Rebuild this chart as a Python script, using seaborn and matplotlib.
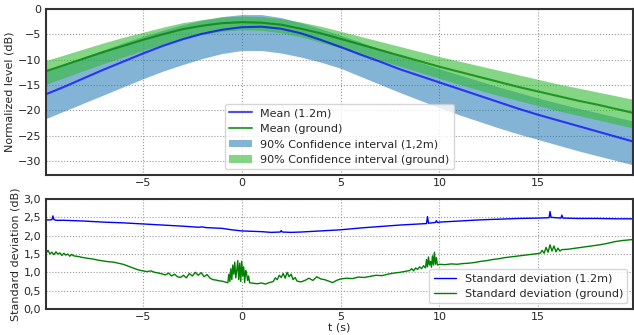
import numpy as np
import pandas as pd
import matplotlib
matplotlib.use("Agg")
import matplotlib.pyplot as plt
from matplotlib.ticker import FuncFormatter
import seaborn as sns

# --------------------------
# Data
# --------------------------
t = [-10, -9, -8, -7, -6, -5, -4, -3, -2, -1, 0, 1, 2, 3, 4, 5,
     6, 7, 8, 9, 10, 11, 12, 13, 14, 15, 16, 17, 18, 19, 20]

mean_12m = [-17.0, -15.4, -13.7, -12.0, -10.4, -8.8, -7.3, -6.0, -4.9, -4.1, -3.6,
            -3.5, -3.9, -4.8, -6.1, -7.5, -9.0, -10.4, -11.9, -13.2, -14.5,
            -15.8, -17.1, -18.4, -19.7, -20.9, -22.0, -23.1, -24.2, -25.3, -26.4]
ci_12m_low = [-21.8, -20.2, -18.6, -17.0, -15.4, -13.8, -12.3, -11.0, -9.8, -8.8, -8.2,
              -8.2, -8.7, -9.5, -10.5, -11.7, -13.3, -14.9, -16.5, -18.0, -19.5,
              -20.9, -22.2, -23.5, -24.7, -25.8, -26.9, -28.0, -29.0, -30.0, -31.0]
ci_12m_high = [-12.3, -10.9, -9.5, -8.1, -6.7, -5.4, -4.2, -3.1, -2.2, -1.5, -1.1,
               -1.1, -1.7, -2.7, -3.9, -5.2, -6.5, -7.9, -9.2, -10.5, -11.8,
               -13.0, -14.2, -15.4, -16.5, -17.6, -18.6, -19.6, -20.5, -21.4, -22.3]

mean_ground = [-12.4, -11.1, -9.8, -8.5, -7.3, -6.1, -5.0, -4.0, -3.3, -2.8, -2.6,
               -2.7, -3.1, -3.9, -4.8, -5.9, -7.0, -8.1, -9.2, -10.3, -11.4,
               -12.4, -13.4, -14.4, -15.4, -16.3, -17.2, -18.1, -18.9, -19.8, -20.7]
ci_ground_low = [-15.0, -13.6, -12.2, -10.8, -9.5, -8.2, -7.0, -5.9, -5.0, -4.4, -4.1,
                 -4.2, -4.7, -5.5, -6.6, -7.7, -8.9, -10.1, -11.3, -12.5, -13.7,
                 -14.9, -16.0, -17.1, -18.1, -19.1, -20.1, -21.0, -21.9, -22.8, -23.7]
ci_ground_high = [-10.3, -9.1, -7.9, -6.7, -5.6, -4.6, -3.6, -2.7, -2.1, -1.6, -1.4,
                  -1.5, -1.9, -2.6, -3.4, -4.4, -5.4, -6.4, -7.4, -8.4, -9.4,
                  -10.3, -11.2, -12.1, -13.0, -13.9, -14.8, -15.6, -16.4, -17.2, -18.0]

# standard deviation (1.2m)
std_12m_t = [-10.0, -9.7, -9.6, -9.55, -9.5, -9.4, -9.0, -8.0, -7.0, -6.0, -5.0,
             -4.0, -3.0, -2.2, -2.0, -1.8, -1.0, -0.5, 0.0, 0.5, 1.0, 1.5,
             1.95, 2.0, 2.05, 2.5, 3.0, 4.0, 5.0, 6.0, 7.0, 8.0, 9.0,
             9.35, 9.4, 9.45, 9.8, 9.85, 9.9, 10.0, 11.0, 12.0, 13.0, 14.0, 15.0,
             15.55, 15.6, 15.65, 16.15, 16.2, 16.25, 17.0, 18.0, 19.0, 20.0]
std_12m = [2.43, 2.43, 2.44, 2.54, 2.44, 2.42, 2.42, 2.40, 2.37, 2.35, 2.32,
           2.29, 2.26, 2.23, 2.24, 2.22, 2.20, 2.16, 2.13, 2.12, 2.11, 2.09,
           2.10, 2.14, 2.10, 2.09, 2.10, 2.13, 2.16, 2.21, 2.25, 2.29, 2.32,
           2.33, 2.52, 2.34, 2.36, 2.41, 2.36, 2.37, 2.40, 2.43, 2.45, 2.47, 2.48,
           2.49, 2.66, 2.50, 2.48, 2.56, 2.48, 2.47, 2.47, 2.46, 2.46]

# standard deviation (ground)
std_ground_t = [
    -10.0, -9.9, -9.8, -9.7, -9.6, -9.5, -9.4, -9.3, -9.2, -9.1, -9.0, -8.9, -8.8, -8.7, -8.6, -8.5,
    -8.25, -8.0, -7.75, -7.5, -7.25, -7.0, -6.75, -6.5, -6.25, -6.0, -5.75, -5.5, -5.25, -5.0,
    -4.8, -4.6, -4.4, -4.2, -4.0, -3.85, -3.7, -3.55, -3.4, -3.25, -3.1, -2.95, -2.8, -2.65,
    -2.5, -2.35, -2.2, -2.05, -1.9, -1.75, -1.6, -1.45, -1.3, -1.15, -1.0, -0.85, -0.75,
    -0.7, -0.65, -0.6, -0.55, -0.5, -0.45, -0.4, -0.35, -0.3, -0.25, -0.2, -0.15, -0.1, -0.05,
    0.0, 0.05, 0.1, 0.15, 0.2, 0.25, 0.3, 0.35, 0.4,
    0.6, 0.8, 1.0, 1.2, 1.4, 1.6,
    1.7, 1.8, 1.9, 2.0, 2.1, 2.2, 2.3, 2.4, 2.5, 2.6, 2.7, 2.8,
    3.0, 3.2, 3.4, 3.6, 3.8, 4.0, 4.2, 4.4, 4.6, 4.8, 5.0,
    5.3, 5.6, 5.9, 6.2, 6.5, 6.8, 7.1, 7.4, 7.7, 8.0, 8.3,
    8.5, 8.6, 8.7, 8.8, 8.9, 9.0, 9.1, 9.2, 9.3, 9.35, 9.4, 9.45, 9.5, 9.55, 9.6, 9.65,
    9.7, 9.75, 9.8, 9.85, 9.9, 10.0,
    10.3, 10.6, 10.9, 11.2, 11.5, 11.8, 12.1, 12.4, 12.7, 13.0, 13.3, 13.6, 13.9, 14.2,
    14.5, 14.8, 15.1,
    15.2, 15.3, 15.4, 15.5, 15.6, 15.7, 15.8, 15.9, 16.0, 16.1, 16.2,
    16.5, 16.9, 17.3, 17.7, 18.1, 18.5, 18.9, 19.3, 19.7, 20.0]
std_ground = [
    1.58, 1.52, 1.60, 1.50, 1.55, 1.48, 1.56, 1.50, 1.53, 1.46, 1.52, 1.47, 1.50, 1.44, 1.49, 1.45,
    1.43, 1.40, 1.38, 1.36, 1.33, 1.31, 1.29, 1.28, 1.25, 1.22, 1.17, 1.12, 1.07, 1.04,
    1.02, 1.04, 1.00, 0.98, 0.95, 0.93, 0.98, 0.90, 0.95, 0.88, 0.86, 0.92, 0.85, 0.97,
    0.90, 1.00, 0.92, 0.99, 0.88, 0.94, 0.84, 0.80, 0.79, 0.77, 0.76, 0.74, 0.72,
    0.72, 0.95, 0.75, 1.10, 0.80, 1.20, 0.95, 1.28, 0.85, 1.05, 1.32, 0.80, 1.25, 0.75,
    1.30, 0.90, 1.15, 0.72, 1.05, 0.95, 0.78, 0.90, 0.72,
    0.70, 0.69, 0.71, 0.68, 0.72, 0.75,
    0.85, 0.80, 0.92, 0.86, 0.97, 0.84, 1.00, 0.88, 0.95, 0.80, 0.86, 0.76,
    0.74, 0.78, 0.84, 0.78, 0.88, 0.82, 0.80, 0.76, 0.72, 0.78, 0.82,
    0.84, 0.83, 0.87, 0.86, 0.89, 0.92, 0.91, 0.95, 0.98, 1.00, 1.03,
    1.05, 1.10, 1.04, 1.12, 1.08, 1.15, 1.10, 1.18, 1.12, 1.35, 1.15, 1.42, 1.20, 1.30, 1.14, 1.45,
    1.20, 1.55, 1.22, 1.40, 1.20, 1.22,
    1.21, 1.23, 1.22, 1.24, 1.25, 1.27, 1.30, 1.32, 1.35, 1.37, 1.40, 1.42, 1.44, 1.46,
    1.48, 1.50, 1.52,
    1.60, 1.52, 1.68, 1.55, 1.75, 1.58, 1.72, 1.56, 1.66, 1.58, 1.62,
    1.63, 1.66, 1.69, 1.72, 1.75, 1.79, 1.84, 1.87, 1.89, 1.90]

# --------------------------
# Style
# --------------------------
sns.set_style("whitegrid", {
    "grid.linestyle": ":",
    "grid.color": "0.6",
    "axes.edgecolor": "0.2",
})
plt.rcParams["font.family"] = ["DejaVu Sans"]
plt.rcParams["font.size"] = 8
plt.rcParams["axes.linewidth"] = 1.5
plt.rcParams["xtick.major.size"] = 0
plt.rcParams["ytick.major.size"] = 0
plt.rcParams["xtick.major.pad"] = 2.5
plt.rcParams["ytick.major.pad"] = 3.5
plt.rcParams["xtick.color"] = "0.15"
plt.rcParams["ytick.color"] = "0.15"
plt.rcParams["axes.labelcolor"] = "0.15"

fig = plt.figure(figsize=(6.34, 3.35), dpi=100)
ax1 = fig.add_axes([0.0726, 0.4776, 0.9259, 0.4955])
ax2 = fig.add_axes([0.0726, 0.0776, 0.9259, 0.3283])

# --------------------------
# Top: normalized level
# --------------------------
df_top = pd.DataFrame({"t": t, "mean_12m": mean_12m, "mean_ground": mean_ground})
sns.lineplot(data=df_top, x="t", y="mean_12m", ax=ax1, color="blue", alpha=0.7,
             linewidth=1.5, label="Mean (1.2m)")
sns.lineplot(data=df_top, x="t", y="mean_ground", ax=ax1, color="green", alpha=0.75,
             linewidth=1.5, label="Mean (ground)")
ax1.fill_between(t, ci_12m_low, ci_12m_high, color="#1f77b4", alpha=0.55, linewidth=0,
                 label="90% Confidence interval (1,2m)")
ax1.fill_between(t, ci_ground_low, ci_ground_high, color="#33bb33", alpha=0.6, linewidth=0,
                 label="90% Confidence interval (ground)")
ax1.set_xlim(-9.9, 19.8)
ax1.set_ylim(-32.8, 0)
ax1.set_yticks([0, -5, -10, -15, -20, -25, -30])
ax1.set_xticks([-5, 0, 5, 10, 15])
ax1.set_xlabel("")
ax1.set_ylabel("Normalized level (dB)", labelpad=2)
ax1.legend(loc="lower center", fontsize=8)

# --------------------------
# Bottom: standard deviation
# --------------------------
sns.lineplot(x=std_12m_t, y=std_12m, ax=ax2, color="blue", linewidth=1.0,
             label="Standard deviation (1.2m)", sort=False)
sns.lineplot(x=std_ground_t, y=std_ground, ax=ax2, color="green", linewidth=1.0,
             label="Standard deviation (ground)", sort=False)
ax2.set_xlim(-9.9, 19.8)
ax2.set_ylim(0, 3.0)
ax2.set_yticks([0, 0.5, 1.0, 1.5, 2.0, 2.5, 3.0])
ax2.set_xticks([-5, 0, 5, 10, 15])
ax2.yaxis.set_major_formatter(FuncFormatter(lambda v, p: f"{v:.1f}".replace(".", ",")))
ax2.set_xlabel("t (s)", labelpad=0)
ax2.set_ylabel("Standard deviation (dB)", labelpad=2)
ax2.legend(loc="lower right", fontsize=8)

fig.savefig("out.png", dpi=100)
